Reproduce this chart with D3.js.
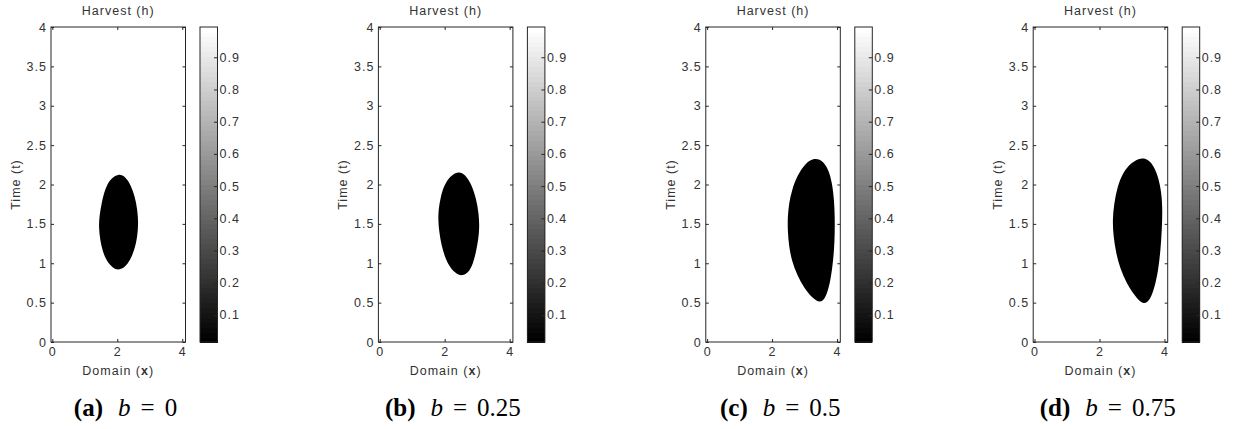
<!DOCTYPE html>
<html>
<head>
<meta charset="utf-8">
<script src="https://cdn.jsdelivr.net/npm/d3@7"></script>
<style>
  body { margin: 0; background: #fff; }
</style>
</head>
<body>
<svg id="fig" width="1233" height="429"></svg>
<script>
// ---- data -------------------------------------------------------------
const panelLetters = ["a", "b", "c", "d"];
const bValues = ["0", "0.25", "0.5", "0.75"];
const xTickValues = [0, 2, 4];
const tTickValues = [0, 0.5, 1, 1.5, 2, 2.5, 3, 3.5, 4];
const cbarTickValues = [0.1, 0.2, 0.3, 0.4, 0.5, 0.6, 0.7, 0.8, 0.9];
const xExtent = [-0.04, 4.1];
const tExtent = [0, 4];
const hExtent = [0.016, 0.994];          // colour limits of the harvest field

// outline [x, t] of the region where the harvest h drops to its minimum
const zoneA = [[2.04,2.14],[1.78,2.07],[1.62,1.94],[1.52,1.77],[1.45,1.60],[1.43,1.46],
  [1.47,1.30],[1.55,1.15],[1.67,1.03],[1.86,0.94],[2.04,0.91],[2.24,0.95],[2.40,1.04],
  [2.53,1.17],[2.62,1.34],[2.65,1.51],[2.62,1.68],[2.54,1.85],[2.42,1.99],[2.25,2.10]];
const zoneB = [[2.42,2.17],[2.17,2.11],[1.97,1.98],[1.87,1.83],[1.81,1.68],[1.80,1.55],
  [1.83,1.40],[1.90,1.23],[2.01,1.07],[2.17,0.94],[2.37,0.86],[2.55,0.84],[2.73,0.88],
  [2.87,0.99],[2.97,1.15],[3.04,1.32],[3.07,1.46],[3.05,1.63],[2.97,1.82],[2.83,2.00],[2.63,2.13]];
const zoneC = [[3.30,2.34],[3.02,2.27],[2.77,2.11],[2.61,1.93],[2.52,1.76],[2.48,1.59],
  [2.48,1.42],[2.52,1.21],[2.61,1.03],[2.77,0.85],[2.98,0.69],[3.23,0.56],[3.48,0.49],
  [3.65,0.56],[3.78,0.74],[3.86,0.96],[3.91,1.17],[3.93,1.38],[3.93,1.59],[3.91,1.80],
  [3.85,2.02],[3.73,2.20],[3.54,2.31]];
const zoneD = [[3.28,2.34],[2.98,2.28],[2.72,2.15],[2.55,1.97],[2.45,1.76],[2.40,1.55],
  [2.43,1.34],[2.51,1.13],[2.64,0.93],[2.83,0.75],[3.08,0.59],[3.34,0.47],[3.55,0.52],
  [3.70,0.70],[3.81,0.91],[3.88,1.17],[3.92,1.42],[3.94,1.68],[3.91,1.89],[3.82,2.08],
  [3.68,2.23],[3.50,2.32]];
const zones = [zoneA, zoneB, zoneC, zoneD];

// ---- layout -----------------------------------------------------------
const L = { left0: 51, pitch: 327.4, top: 27, axW: 134.5, axH: 315,
            cbOffset: 149, cbW: 17.5, nColors: 64 };
const ink = "#262626";
const textInk = "#333";
const sans = "'Liberation Sans', Arial, Helvetica, sans-serif";
const serif = "'Liberation Serif', 'Times New Roman', serif";

const svg = d3.select("#fig");
const defs = svg.append("defs");
defs.append("filter").attr("id", "soft")
  .attr("x", "-20%").attr("y", "-20%").attr("width", "140%").attr("height", "140%")
  .append("feGaussianBlur").attr("stdDeviation", 0.6);

const xs = d3.scaleLinear().domain(xExtent).range([0, L.axW]);
const ts = d3.scaleLinear().domain(tExtent).range([L.axH, 0]);
const hs = d3.scaleLinear().domain(hExtent).range([L.axH, 0]);
const grayLevels = d3.range(L.nColors).map(i => d3.interpolateRgb("#000", "#fff")(i / (L.nColors - 1)));
const gray = d3.scaleQuantize().domain(hExtent).range(grayLevels);

const outline = d3.line()
  .x(d => xs(d[0])).y(d => ts(d[1]))
  .curve(d3.curveBasisClosed);

function labelStyle(sel) {
  sel.attr("fill", textInk).style("font-family", sans).style("font-size", "12.5px")
    .style("letter-spacing", "1px");
}
function styleAxis(g) {
  g.select(".domain").remove();
  g.selectAll(".tick line").attr("stroke", ink);
  g.selectAll("text").call(labelStyle);
}

panelLetters.forEach((letter, i) => {
  const left = L.left0 + i * L.pitch;
  const g = svg.append("g").attr("transform", `translate(${left},${L.top})`);

  // heat map of the harvest field
  const clipId = "clip-" + letter;
  defs.append("clipPath").attr("id", clipId)
    .append("rect").attr("width", L.axW).attr("height", L.axH);
  const img = g.append("g").attr("clip-path", `url(#${clipId})`);
  img.append("rect").attr("width", L.axW).attr("height", L.axH)
    .attr("fill", gray(hExtent[1]));
  img.append("path").datum(zones[i])
    .attr("d", outline)
    .attr("fill", gray(hExtent[0]))
    .attr("filter", "url(#soft)");

  // axes with inward ticks on all four sides
  g.append("g").attr("transform", `translate(0,${L.axH})`)
    .call(d3.axisBottom(xs).tickValues(xTickValues).tickSize(-3).tickPadding(5)
      .tickFormat(d => String(d)))
    .call(styleAxis);
  g.append("g")
    .call(d3.axisTop(xs).tickValues(xTickValues).tickSize(-3).tickFormat(""))
    .call(styleAxis);
  g.append("g")
    .call(d3.axisLeft(ts).tickValues(tTickValues).tickSize(-3).tickPadding(4)
      .tickFormat(d => String(d)))
    .call(styleAxis);
  g.append("g").attr("transform", `translate(${L.axW},0)`)
    .call(d3.axisRight(ts).tickValues(tTickValues).tickSize(-3).tickFormat(""))
    .call(styleAxis);
  g.append("rect").attr("width", L.axW).attr("height", L.axH)
    .attr("fill", "none").attr("stroke", ink).attr("stroke-width", 1);

  // titles
  g.append("text").attr("x", L.axW / 2).attr("y", -12)
    .attr("text-anchor", "middle").call(labelStyle).text("Harvest (h)");
  const xl = g.append("text").attr("x", L.axW / 2).attr("y", 348)
    .attr("text-anchor", "middle").call(labelStyle);
  xl.append("tspan").text("Domain (");
  xl.append("tspan").style("font-weight", "bold").text("x");
  xl.append("tspan").text(")");
  g.append("text")
    .attr("transform", `translate(-31,${L.axH / 2}) rotate(-90)`)
    .attr("text-anchor", "middle").call(labelStyle).text("Time (t)");

  // colour bar
  const cb = g.append("g").attr("transform", `translate(${L.cbOffset},0)`);
  const step = (hExtent[1] - hExtent[0]) / L.nColors;
  cb.selectAll("rect.band").data(d3.range(L.nColors)).join("rect")
    .attr("class", "band")
    .attr("shape-rendering", "crispEdges")
    .attr("x", 0).attr("width", L.cbW)
    .attr("y", k => hs(hExtent[0] + (k + 1) * step))
    .attr("height", k => hs(hExtent[0] + k * step) - hs(hExtent[0] + (k + 1) * step) + 0.6)
    .attr("fill", k => grayLevels[k]);
  cb.append("g").attr("transform", `translate(${L.cbW},0)`)
    .call(d3.axisRight(hs).tickValues(cbarTickValues).tickSize(-3.5).tickPadding(2)
      .tickFormat(d3.format(".1f")))
    .call(styleAxis);
  cb.append("rect").attr("width", L.cbW).attr("height", L.axH)
    .attr("fill", "none").attr("stroke", ink).attr("stroke-width", 1);

  // sub-figure caption
  const cap = svg.append("text").attr("x", left + 74.5).attr("y", 416)
    .attr("text-anchor", "middle").attr("fill", "#000")
    .style("font-family", serif).style("font-size", "25px");
  cap.append("tspan").style("font-weight", "bold").text(`(${letter})`);
  cap.append("tspan").attr("dx", 15).style("font-style", "italic").text("b");
  cap.append("tspan").attr("dx", 10).text("=");
  cap.append("tspan").attr("dx", 10).text(bValues[i]);
});
</script>
</body>
</html>
